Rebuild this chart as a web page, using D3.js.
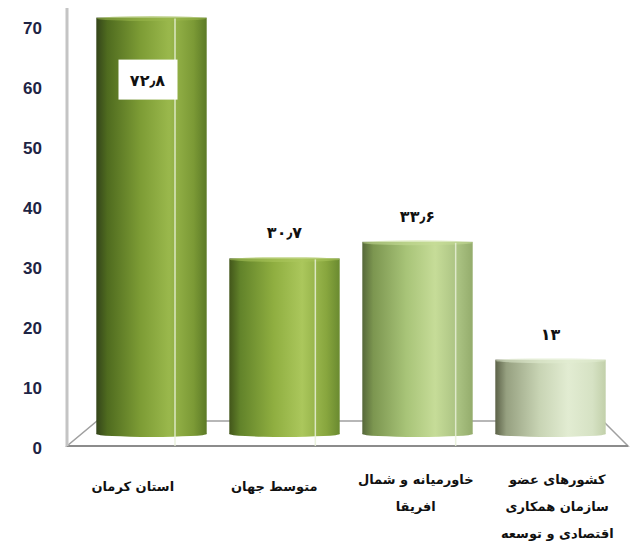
<!DOCTYPE html>
<html>
<head>
<meta charset="utf-8">
<script src="https://cdn.jsdelivr.net/npm/d3@7"></script>
<style>
html,body{margin:0;padding:0;background:#fff;}
svg{display:block;}
</style>
</head>
<body>
<svg id="chart" width="631" height="559"></svg>
<script>
const categories = ["استان کرمان", "متوسط جهان", "خاورمیانه و شمال افریقا", "کشورهای عضو سازمان همکاری اقتصادی و توسعه"];
const labelLines = [["استان کرمان"], ["متوسط جهان"], ["خاورمیانه و شمال", "افریقا"], ["کشورهای عضو", "سازمان همکاری", "اقتصادی و توسعه"]];
const values = [72.8, 30.7, 33.6, 13];
const valueLabels = ["\u06F7\u06F2\u066B\u06F8", "\u06F3\u06F0\u066B\u06F7", "\u06F3\u06F3\u066B\u06F6", "\u06F1\u06F3"];
const tickValues = [0, 10, 20, 30, 40, 50, 60, 70];
const barPalettes = [
  ["#34451a", "#4f6b1f", "#7d9c35", "#9ab84c", "#7c9a36", "#5c7a26"],
  ["#42561a", "#62832a", "#8fae40", "#abc75c", "#88a63e", "#6a8a30"],
  ["#56683a", "#7c9650", "#a8c478", "#c6dc98", "#a8c080", "#94ac6c"],
  ["#5c6248", "#96a080", "#c8d4b4", "#e2ecd2", "#d6e2c4", "#c2d0aa"]
];

const svg = d3.select("#chart");
const defs = svg.append("defs");

const xBar = d3.scaleBand().domain(categories).range([85, 617]).paddingInner(0.17).paddingOuter(0.085);
const xLabel = d3.scaleBand().domain(categories).range([62, 628]);
const xGrid = d3.scalePoint().domain(categories).range([175, 596]);
const yBar = d3.scaleLinear().domain([0, 70]).range([434, 33.6]);
const yAxis = d3.scaleLinear().domain([0, 70]).range([448, 28]);

// floor & wall
const floor = [[67, 446], [628, 446], [603, 421], [97, 421]];
svg.append("path")
  .attr("d", d3.line()(floor) + "Z")
  .attr("fill", "#fff")
  .attr("stroke", "#a0a0a0")
  .attr("stroke-width", 1.5);
svg.append("line")
  .attr("x1", 67).attr("x2", 628).attr("y1", 446).attr("y2", 446)
  .attr("stroke", "#8c8c8c").attr("stroke-width", 2);
svg.append("line")
  .attr("x1", 67).attr("x2", 67).attr("y1", 8).attr("y2", 446)
  .attr("stroke", "#c4c4c4").attr("stroke-width", 3);

// gradients
barPalettes.forEach((p, i) => {
  const g = defs.append("linearGradient").attr("id", "g" + i)
    .attr("x1", "0").attr("x2", "1").attr("y1", "0").attr("y2", "0");
  const offs = [0, 0.1, 0.4, 0.66, 0.88, 1];
  p.forEach((c, k) => g.append("stop").attr("offset", offs[k]).attr("stop-color", c));
});

// bars (cylinders)
const bars = svg.append("g").selectAll("g.bar").data(categories).join("g").attr("class", "bar");
bars.append("rect")
  .attr("x", d => xBar(d))
  .attr("y", (d, i) => yBar(values[i]))
  .attr("width", xBar.bandwidth())
  .attr("height", (d, i) => yBar(0) - yBar(values[i]))
  .attr("fill", (d, i) => `url(#g${i})`);
bars.append("ellipse")
  .attr("cx", d => xBar(d) + xBar.bandwidth() / 2)
  .attr("cy", yBar(0))
  .attr("rx", xBar.bandwidth() / 2)
  .attr("ry", 3)
  .attr("fill", (d, i) => `url(#g${i})`);
bars.append("ellipse")
  .attr("cx", d => xBar(d) + xBar.bandwidth() / 2)
  .attr("cy", (d, i) => yBar(values[i]) + 1)
  .attr("rx", xBar.bandwidth() / 2)
  .attr("ry", 2.5)
  .attr("fill", (d, i) => barPalettes[i][3])
  .attr("opacity", 0.55);

// light vertical lines through bars
svg.append("g").selectAll("line").data(categories.slice(0, 3)).join("line")
  .attr("x1", d => xGrid(d)).attr("x2", d => xGrid(d))
  .attr("y1", (d, i) => yBar(values[i]) + 1)
  .attr("y2", 446)
  .attr("stroke", "#e8f0d8").attr("stroke-width", 1.5).attr("opacity", 0.85);

// y axis labels
const ax = svg.append("g").attr("transform", "translate(42,0)")
  .call(d3.axisLeft(yAxis).tickValues(tickValues).tickSize(0).tickPadding(0).tickFormat(d3.format("d")));
ax.select(".domain").remove();
ax.selectAll("text")
  .attr("font-family", "Liberation Sans, Arial, sans-serif")
  .attr("font-size", 17)
  .attr("font-weight", "bold")
  .attr("fill", "#1e2444");

// value labels
svg.append("rect")
  .attr("x", xBar(categories[0]) + xBar.bandwidth() / 2 - 33)
  .attr("y", yBar(values[0]) + 42)
  .attr("width", 59).attr("height", 40)
  .attr("fill", "#fff");
svg.append("g").selectAll("text").data(categories).join("text")
  .attr("x", (d, i) => xBar(d) + xBar.bandwidth() / 2 - (i === 0 ? 4 : 0))
  .attr("y", (d, i) => i === 0 ? yBar(values[0]) + 68 : yBar(values[i]) - 20)
  .attr("text-anchor", "middle")
  .attr("font-family", "DejaVu Sans, sans-serif")
  .attr("font-size", 16)
  .attr("font-weight", "bold")
  .attr("fill", "#111")
  .text((d, i) => valueLabels[i]);

// category labels
const lab = svg.append("g").selectAll("text").data(categories).join("text")
  .attr("x", d => xLabel(d) + xLabel.bandwidth() / 2)
  .attr("y", 491)
  .attr("text-anchor", "middle")
  .attr("direction", "rtl")
  .attr("font-family", "DejaVu Sans, sans-serif")
  .attr("font-size", 13)
  .attr("font-weight", "bold")
  .attr("fill", "#111");
lab.each(function(d, i) {
  const t = d3.select(this);
  labelLines[i].forEach((ln, k) => {
    t.append("tspan")
      .attr("x", xLabel(d) + xLabel.bandwidth() / 2)
      .attr("dy", k === 0 ? (labelLines[i].length > 1 ? -7 : 0) : 27)
      .text(ln);
  });
});
</script>
</body>
</html>
